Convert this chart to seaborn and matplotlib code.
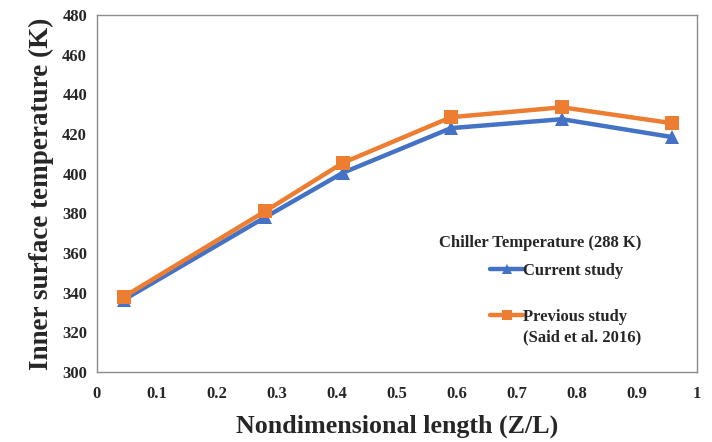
import matplotlib
matplotlib.use("Agg")
import matplotlib.pyplot as plt
import seaborn as sns
import pandas as pd

# Data
z_over_l = [0.045, 0.28, 0.41, 0.59, 0.775, 0.958]
current_study = [336.5, 378.0, 400.5, 423.0, 427.5, 418.5]
previous_study = [338.0, 381.0, 405.5, 428.5, 433.5, 425.5]
series_names = ["Current study", "Previous study"]
previous_note = "(Said et al. 2016)"
legend_title = "Chiller Temperature (288 K)"
x_ticks = [0, 0.1, 0.2, 0.3, 0.4, 0.5, 0.6, 0.7, 0.8, 0.9, 1]
x_tick_labels = ["0", "0.1", "0.2", "0.3", "0.4", "0.5", "0.6", "0.7", "0.8", "0.9", "1"]
y_ticks = [300, 320, 340, 360, 380, 400, 420, 440, 460, 480]

df = pd.DataFrame({
    "x": z_over_l * 2,
    "y": current_study + previous_study,
    "series": [series_names[0]] * len(z_over_l) + [series_names[1]] * len(z_over_l),
})

sns.set_style("white")
plt.rcParams["font.family"] = ["Liberation Serif", "DejaVu Serif"]
plt.rcParams["font.weight"] = "bold"

fig = plt.figure(figsize=(7.12, 4.42), dpi=100)
ax = fig.add_axes([0.136, 0.158, 0.843, 0.808])

palette = {series_names[0]: "#4472C4", series_names[1]: "#ED7D31"}
markers = {series_names[0]: "^", series_names[1]: "s"}
sns.lineplot(data=df, x="x", y="y", hue="series", style="series",
             palette=palette, markers=markers, dashes=False,
             linewidth=3.2, markersize=9.5, markeredgewidth=0, ax=ax)

ax.set_xlim(0, 1)
ax.set_ylim(300, 480)
ax.set_xticks(x_ticks)
ax.set_xticklabels(x_tick_labels)
ax.set_yticks(y_ticks)
ax.tick_params(axis="y", length=0, labelsize=12, pad=7)
ax.tick_params(axis="x", length=0, labelsize=12, pad=10)
for lab in ax.get_xticklabels() + ax.get_yticklabels():
    lab.set_fontweight("bold")

ax.set_xlabel("Nondimensional length (Z/L)", fontsize=18.7, fontweight="bold", labelpad=9)
ax.set_ylabel("Inner surface temperature (K)", fontsize=19.5, fontweight="bold", labelpad=6)

for s in ax.spines.values():
    s.set_visible(True)
    s.set_color("#8c8c8c")
    s.set_linewidth(1.0)

ax.text(0.907, 0.361, legend_title, transform=ax.transAxes, ha="right", va="center",
        fontsize=12, fontweight="bold")

leg = ax.legend(loc="upper left", bbox_to_anchor=(0.655, 0.305), frameon=False,
                prop={"weight": "bold", "size": 12}, handlelength=2.0,
                handletextpad=0.0, labelspacing=1.8, borderpad=0.0,
                borderaxespad=0.0)
for h in leg.legend_handles:
    h.set_markersize(7)

# second line of the "Previous study" legend entry
fig.canvas.draw()
bb = leg.get_texts()[1].get_window_extent(fig.canvas.get_renderer())
ax.annotate(previous_note, xy=(bb.x0, bb.y0), xycoords="figure pixels",
            xytext=(0, -3), textcoords="offset points", ha="left", va="top",
            fontsize=12, fontweight="bold")

fig.savefig("out.png", dpi=100)
